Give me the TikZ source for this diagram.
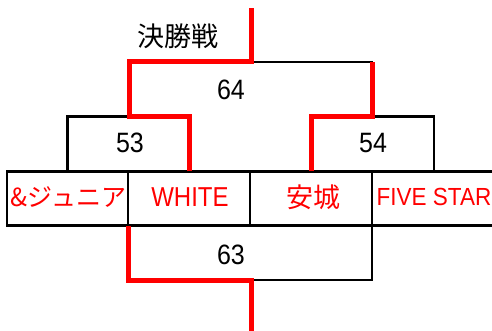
\documentclass[tikz,border=0pt]{standalone}
\usepackage{fontspec}
\setmainfont{Liberation Sans}
\newfontfamily\jp{Noto Sans CJK JP}
\begin{document}
\begin{tikzpicture}[x=1pt,y=-1pt,
  blk/.style={draw=black,line width=2.6pt},
  rd/.style={draw=red,line width=5pt,line join=miter},
  cell/.style={draw=black,line width=2.6pt,minimum height=54pt,inner sep=0pt,outer sep=0pt,anchor=north west},
  lbl/.style={inner sep=0pt,font=\fontsize{25}{25}\selectfont},
  rlbl/.style={inner sep=0pt,text=red}]
\useasboundingbox (0,0) rectangle (492,331);
% team row
\node[cell,minimum width=121pt] (c1) at (7,171.5) {};
\node[cell,minimum width=122pt] (c2) at (128,171.5) {};
\node[cell,minimum width=122pt] (c3) at (250,171.5) {};
\node[cell,minimum width=124pt] (c4) at (372,171.5) {};
\node[rlbl,font=\jp\fontsize{25}{25}\selectfont] (t1) at (68.5,197) {\&ジュニア};
\node[rlbl,font=\fontsize{24}{24}\selectfont] (t2) at (190,197) {\scalebox{1}[1.14]{WHITE}};
\node[rlbl,font=\jp\fontsize{27}{27}\selectfont] (t3) at (313,197) {安城};
\node[rlbl,font=\fontsize{22.5}{22.5}\selectfont,anchor=west] (t4) at (376.5,197) {\scalebox{1}[1.1]{FIVE STAR}};
% junctions
\coordinate (j53) at (129.5,116.5);
\coordinate (j54) at (372.5,116.5);
\coordinate (j64) at (251,62);
\coordinate (top) at (251,8);
\coordinate (j63) at (251,280);
\coordinate (bot) at (251,331);
% black bracket lines
\draw[blk] (c1.north) |- (j53);
\draw[blk] (c4.north) |- (j54);
\draw[blk] (j54 |- j64) -- (j64);
\draw[blk] (c3.south east) |- (j63);
% red bracket lines
\draw[rd] (c2.north) |- (j53) |- (j64) -- (top);
\draw[rd] (c3.north) |- (j54) -- (j54 |- j64);
\draw[rd] (c1.south east) |- (j63) -- (bot);
% labels
\node[lbl,font=\jp\fontsize{27}{27}\selectfont] (title) at (178,36) {決勝戦};
\node[lbl] (n64) at (231,90) {\scalebox{1}[1.12]{64}};
\node[lbl] (n53) at (130,143) {\scalebox{1}[1.12]{53}};
\node[lbl] (n54) at (373,143) {\scalebox{1}[1.12]{54}};
\node[lbl] (n63) at (231,255) {\scalebox{1}[1.12]{63}};
\end{tikzpicture}
\end{document}
